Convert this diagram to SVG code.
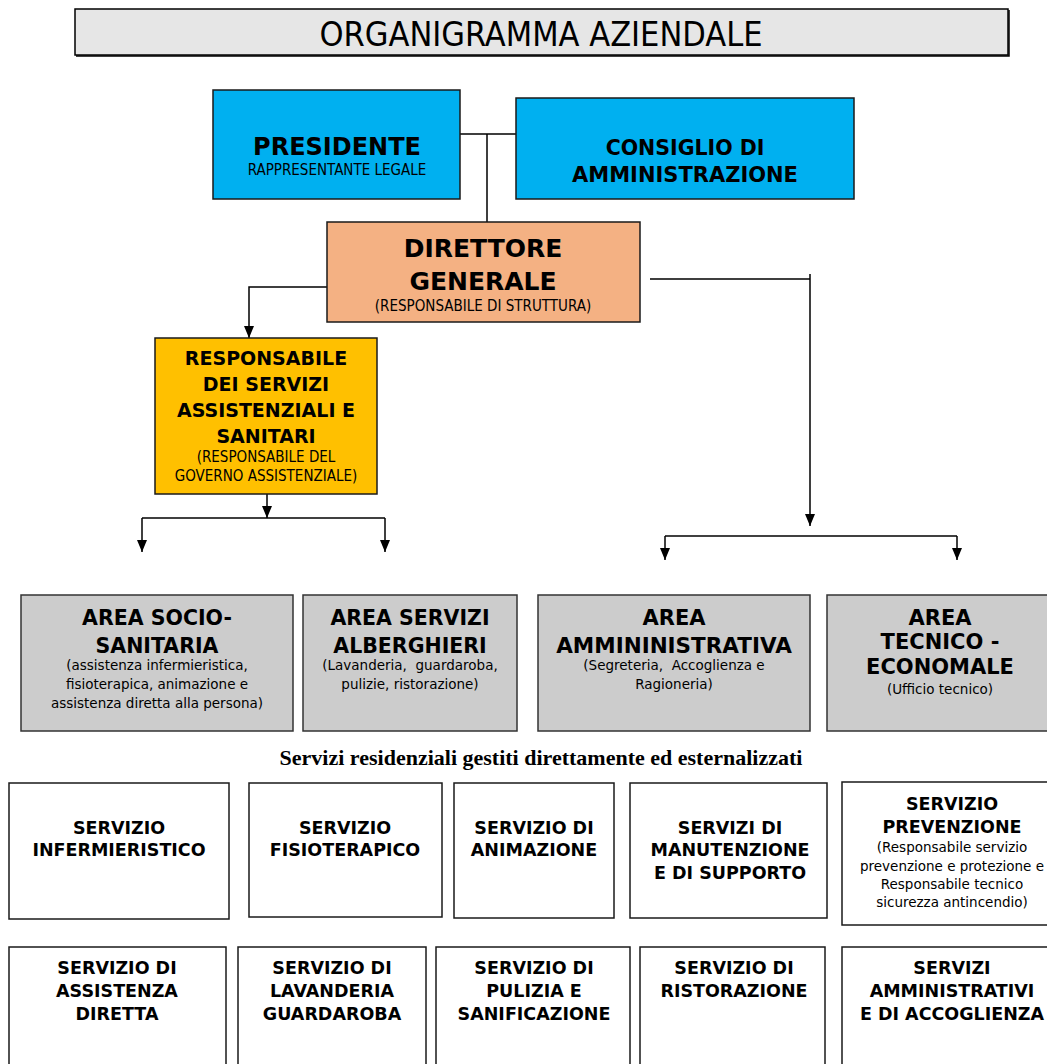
<svg xmlns="http://www.w3.org/2000/svg" width="1047" height="1064" viewBox="0 0 1047 1064">
<defs>
<marker id="arr" viewBox="0 0 12 10" refX="12" refY="5" markerWidth="12" markerHeight="10" markerUnits="userSpaceOnUse" orient="auto">
<path d="M0,0 L12,5 L0,10 Z" fill="#000"/>
</marker>
<style>
.box{stroke:#1a1a1a;stroke-width:1.5}
.blue{fill:#00b0f0}
.orange{fill:#f4b183}
.yellow{fill:#ffc000}
.gray{fill:#cccccc;stroke:#333}
.white{fill:#fff}
.b{font-family:"DejaVu Sans",Verdana,sans-serif;font-weight:bold;text-anchor:middle;fill:#000}
.s{font-family:"DejaVu Sans",Verdana,sans-serif;text-anchor:middle;fill:#000;font-size:13.5px}
.sc{font-family:"DejaVu Sans Condensed","DejaVu Sans",sans-serif;text-anchor:middle;fill:#000;font-size:15px}
.ln{stroke:#000;stroke-width:1.5;fill:none}
</style>
</defs>
<rect width="1047" height="1064" fill="#fff"/>

<g id="title">
<rect x="75" y="9" width="933" height="46" fill="#e6e6e6" stroke="#000" stroke-width="1.5"/>
<path d="M76,56 L1009,56 L1009,10" stroke="#000" stroke-width="1.5" fill="none"/>
<text x="541" y="46" font-family="'DejaVu Sans Condensed','DejaVu Sans',sans-serif" font-size="34" text-anchor="middle">ORGANIGRAMMA AZIENDALE</text>
</g>

<g id="connectors">
<path class="ln" d="M460,134 L516,134 M487,134 L487,222"/>
<path class="ln" d="M327,287 L249,287 L249,338" marker-end="url(#arr)"/>
<path class="ln" d="M650,279 L810,279 M810,274 L810,526" marker-end="url(#arr)"/>
<path class="ln" d="M267,494 L267,518" marker-end="url(#arr)"/>
<path class="ln" d="M142,518 L385,518"/>
<path class="ln" d="M142,518 L142,552" marker-end="url(#arr)"/>
<path class="ln" d="M385,518 L385,552" marker-end="url(#arr)"/>
<path class="ln" d="M665,536 L957,536"/>
<path class="ln" d="M665,536 L665,560" marker-end="url(#arr)"/>
<path class="ln" d="M957,536 L957,560" marker-end="url(#arr)"/>
</g>

<g id="presidente">
<rect class="box blue" x="213" y="90" width="247" height="109"/>
<text class="b" x="337" y="155" font-size="24">PRESIDENTE</text>
<text class="sc" x="337" y="175">RAPPRESENTANTE LEGALE</text>
</g>

<g id="consiglio">
<rect class="box blue" x="516" y="98" width="338" height="101"/>
<text class="b" x="685" y="155" font-size="20.5">CONSIGLIO DI</text>
<text class="b" x="685" y="182" font-size="21">AMMINISTRAZIONE</text>
</g>

<g id="direttore">
<rect class="box orange" x="327" y="222" width="313" height="100"/>
<text class="b" x="483" y="257" font-size="25">DIRETTORE</text>
<text class="b" x="483" y="290" font-size="25">GENERALE</text>
<text class="sc" x="483" y="311">(RESPONSABILE DI STRUTTURA)</text>
</g>

<g id="responsabile">
<rect class="box yellow" x="155" y="338" width="222" height="156"/>
<text class="b" x="266" y="365" font-size="19">RESPONSABILE</text>
<text class="b" x="266" y="391" font-size="19">DEI SERVIZI</text>
<text class="b" x="266" y="417" font-size="19">ASSISTENZIALI E</text>
<text class="b" x="266" y="443" font-size="19">SANITARI</text>
<text class="sc" x="266" y="462">(RESPONSABILE DEL</text>
<text class="sc" x="266" y="481">GOVERNO ASSISTENZIALE)</text>
</g>

<g id="area-socio-sanitaria">
<rect class="box gray" x="21" y="595" width="272" height="136"/>
<text class="b" x="157" y="625" font-size="20.5">AREA SOCIO-</text>
<text class="b" x="157" y="653" font-size="20.5">SANITARIA</text>
<text class="s" x="157" y="670">(assistenza infermieristica,</text>
<text class="s" x="157" y="689">fisioterapica, animazione e</text>
<text class="s" x="157" y="708">assistenza diretta alla persona)</text>
</g>

<g id="area-servizi-alberghieri">
<rect class="box gray" x="303" y="595" width="214" height="136"/>
<text class="b" x="410" y="625" font-size="20.5">AREA SERVIZI</text>
<text class="b" x="410" y="653" font-size="20.5">ALBERGHIERI</text>
<text class="s" x="410" y="670" xml:space="preserve">(Lavanderia,  guardaroba,</text>
<text class="s" x="410" y="689">pulizie, ristorazione)</text>
</g>

<g id="area-amministrativa">
<rect class="box gray" x="538" y="595" width="272" height="136"/>
<text class="b" x="674" y="625" font-size="21">AREA</text>
<text class="b" x="674" y="653" font-size="21.5">AMMININISTRATIVA</text>
<text class="s" x="674" y="670" xml:space="preserve">(Segreteria,  Accoglienza e</text>
<text class="s" x="674" y="689">Ragioneria)</text>
</g>

<g id="area-tecnico-economale">
<rect class="box gray" x="827" y="595" width="230" height="136"/>
<text class="b" x="940" y="625" font-size="21">AREA</text>
<text class="b" x="940" y="649" font-size="21">TECNICO -</text>
<text class="b" x="940" y="674" font-size="21">ECONOMALE</text>
<text class="s" x="940" y="694">(Ufficio tecnico)</text>
</g>

<g id="caption">
<text x="541" y="765" font-family="'Liberation Serif','Times New Roman',serif" font-weight="bold" font-size="22" text-anchor="middle">Servizi residenziali gestiti direttamente ed esternalizzati</text>
</g>

<g id="servizio-infermieristico">
<rect class="box white" x="9" y="783" width="220" height="136"/>
<text class="b" x="119" y="834" font-size="17.5">SERVIZIO</text>
<text class="b" x="119" y="856" font-size="17.5">INFERMIERISTICO</text>
</g>

<g id="servizio-fisioterapico">
<rect class="box white" x="249" y="783" width="193" height="134"/>
<text class="b" x="345" y="834" font-size="17.5">SERVIZIO</text>
<text class="b" x="345" y="856" font-size="17.5">FISIOTERAPICO</text>
</g>

<g id="servizio-animazione">
<rect class="box white" x="454" y="783" width="160" height="135"/>
<text class="b" x="534" y="834" font-size="17.5">SERVIZIO DI</text>
<text class="b" x="534" y="856" font-size="17.5">ANIMAZIONE</text>
</g>

<g id="servizi-manutenzione">
<rect class="box white" x="630" y="783" width="197" height="135"/>
<text class="b" x="730" y="834" font-size="17.5">SERVIZI DI</text>
<text class="b" x="730" y="856" font-size="17.5">MANUTENZIONE</text>
<text class="b" x="730" y="879" font-size="17.5">E DI SUPPORTO</text>
</g>

<g id="servizio-prevenzione">
<rect class="box white" x="842" y="782" width="220" height="143"/>
<text class="b" x="952" y="810" font-size="17.5">SERVIZIO</text>
<text class="b" x="952" y="833" font-size="17.5">PREVENZIONE</text>
<text class="s" x="952" y="852">(Responsabile servizio</text>
<text class="s" x="952" y="871">prevenzione e protezione e</text>
<text class="s" x="952" y="889">Responsabile tecnico</text>
<text class="s" x="952" y="907">sicurezza antincendio)</text>
</g>

<g id="servizio-assistenza-diretta">
<rect class="box white" x="9" y="947" width="217" height="130"/>
<text class="b" x="117" y="974" font-size="17.5">SERVIZIO DI</text>
<text class="b" x="117" y="997" font-size="17.5">ASSISTENZA</text>
<text class="b" x="117" y="1020" font-size="17.5">DIRETTA</text>
</g>

<g id="servizio-lavanderia">
<rect class="box white" x="238" y="947" width="188" height="130"/>
<text class="b" x="332" y="974" font-size="17.5">SERVIZIO DI</text>
<text class="b" x="332" y="997" font-size="17.5">LAVANDERIA</text>
<text class="b" x="332" y="1020" font-size="17.5">GUARDAROBA</text>
</g>

<g id="servizio-pulizia">
<rect class="box white" x="436" y="947" width="194" height="130"/>
<text class="b" x="534" y="974" font-size="17.5">SERVIZIO DI</text>
<text class="b" x="534" y="997" font-size="17.5">PULIZIA E</text>
<text class="b" x="534" y="1020" font-size="17.5">SANIFICAZIONE</text>
</g>

<g id="servizio-ristorazione">
<rect class="box white" x="640" y="947" width="185" height="130"/>
<text class="b" x="734" y="974" font-size="17.5">SERVIZIO DI</text>
<text class="b" x="734" y="997" font-size="17.5">RISTORAZIONE</text>
</g>

<g id="servizi-amministrativi">
<rect class="box white" x="842" y="947" width="220" height="130"/>
<text class="b" x="952" y="974" font-size="17.5">SERVIZI</text>
<text class="b" x="952" y="997" font-size="17.5">AMMINISTRATIVI</text>
<text class="b" x="952" y="1020" font-size="17.5">E DI ACCOGLIENZA</text>
</g>
</svg>
